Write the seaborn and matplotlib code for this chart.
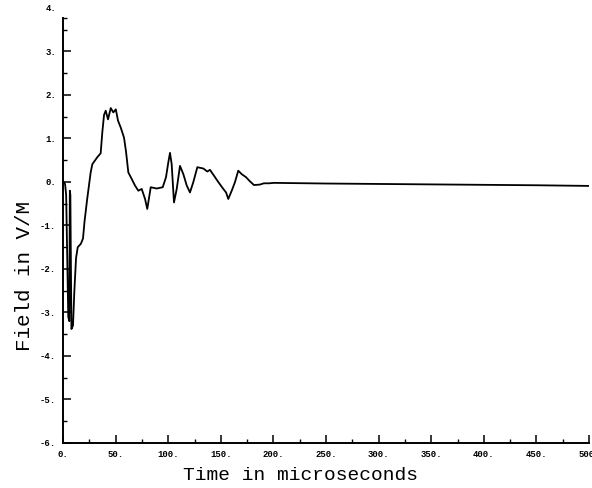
import matplotlib
matplotlib.use("Agg")
import matplotlib.pyplot as plt
import seaborn as sns
import pandas as pd
from matplotlib.ticker import MultipleLocator, FixedLocator

# Time (microseconds) and field (V/M)
time_us = [0.5, 2.0, 3.0, 5.0, 6.0, 6.5, 7.0, 8.0, 9.5, 10.8, 12.4, 14.0, 17.0, 19.0,
           20.5, 23.0, 26.3, 27.9, 32.6, 35.8, 37.4, 39.0, 40.6, 42.8, 45.4, 47.8,
           50.2, 52.3, 54.9, 58.0, 59.9, 62.1, 65.3, 68.4, 71.6, 74.8, 78.0, 80.1,
           83.4, 89.1, 94.8, 97.9, 100.1, 101.7, 103.3, 105.5, 108.1, 111.2, 114.4,
           117.6, 120.7, 123.9, 127.7, 133.4, 137.2, 139.7, 144.5, 147.6, 152.4,
           155.0, 157.1, 160.4, 163.5, 166.6, 169.9, 174.0, 177.1, 181.5, 187.0,
           191.0, 196.0, 200.5, 250.0, 300.0, 350.0, 400.0, 450.0, 500.0]
field_vm = [0.0, -0.05, -0.3, -3.1, -3.2, -0.2, -0.3, -3.38, -3.3, -2.5, -1.75, -1.5, -1.42, -1.3,
            -0.9, -0.39, 0.22, 0.41, 0.57, 0.66, 1.15, 1.54, 1.64, 1.44, 1.7, 1.6,
            1.67, 1.41, 1.25, 1.02, 0.7, 0.22, 0.07, -0.08, -0.2, -0.16, -0.39, -0.62,
            -0.12, -0.15, -0.12, 0.11, 0.45, 0.67, 0.41, -0.47, -0.16, 0.37, 0.18,
            -0.08, -0.24, 0.0, 0.34, 0.31, 0.24, 0.28, 0.11, 0.0, -0.16,
            -0.24, -0.39, -0.2, 0.0, 0.26, 0.18, 0.11, 0.03, -0.07, -0.06,
            -0.03, -0.03, -0.02, -0.035, -0.045, -0.055, -0.065, -0.075, -0.09]

x_ticks = [0, 50, 100, 150, 200, 250, 300, 350, 400, 450, 500]
x_tick_labels = ["0.", "50.", "100.", "150.", "200.", "250.", "300.", "350.", "400.", "450.", "500."]
y_ticks = [-6, -5, -4, -3, -2, -1, 0, 1, 2, 3, 4]
y_tick_labels = ["-6.", "-5.", "-4.", "-3.", "-2.", "-1.", "0.", "1.", "2.", "3.", "4."]

sns.set_theme(style="ticks")
plt.rcParams["font.family"] = ["Liberation Mono", "DejaVu Sans Mono"]

df = pd.DataFrame({"t": time_us, "E": field_vm})

fig = plt.figure(figsize=(5.92, 4.88), dpi=100)
ax = fig.add_axes([63 / 592, 1 - 443 / 488, 526 / 592, 435 / 488])
sns.lineplot(data=df, x="t", y="E", ax=ax, color="black", linewidth=1.3, sort=False,
             estimator=None)

ax.set_xlim(0, 500)
ax.set_ylim(-6, 4)
ax.set_xticks(x_ticks)
ax.set_xticklabels(x_tick_labels)
ax.set_yticks(y_ticks)
ax.set_yticklabels(y_tick_labels)
ax.xaxis.set_minor_locator(MultipleLocator(25))
ax.yaxis.set_minor_locator(FixedLocator([v / 2 for v in range(-11, 8, 2)] + [3.78]))

for s in ["top", "right"]:
    ax.spines[s].set_visible(False)
ax.spines["left"].set_bounds(-6, 3.78)
ax.spines["left"].set_linewidth(1.4)
ax.spines["bottom"].set_linewidth(1.4)
ax.spines["left"].set_color("black")
ax.spines["bottom"].set_color("black")

ax.tick_params(axis="both", which="major", direction="in", length=6, width=1.1,
               color="black", labelsize=6.5, labelcolor="black")
ax.tick_params(axis="both", which="minor", direction="in", length=3, width=1.0, color="black")
ax.tick_params(axis="x", which="major", pad=5)
ax.tick_params(axis="y", which="major", pad=5)
ax.yaxis.get_major_ticks()[-1].tick1line.set_visible(False)
for lab in ax.get_xticklabels() + ax.get_yticklabels():
    lab.set_fontweight("bold")

ax.set_xlabel("Time in microseconds", fontsize=14, color="black")
ax.set_ylabel("Field in V/M", fontsize=15, color="black")
ax.xaxis.set_label_coords(0.4506, -0.056)
ax.yaxis.set_label_coords(-0.056, 0.384)
ax.grid(False)

fig.savefig("out.png", dpi=100, facecolor="white")
